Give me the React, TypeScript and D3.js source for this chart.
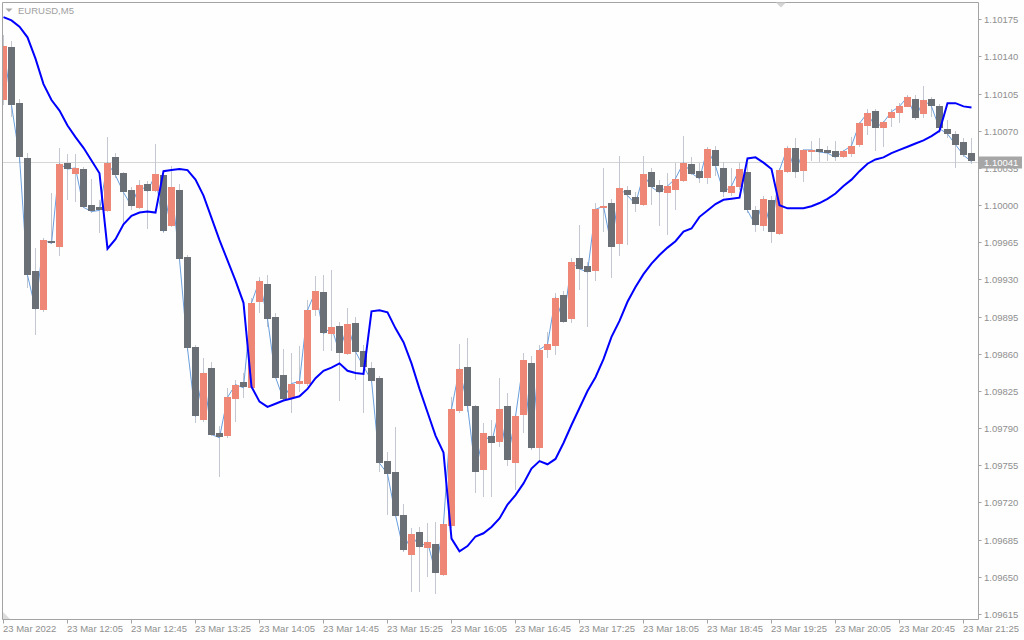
import React from "react";
import * as d3 from "d3";

const symbolLabel = "EURUSD,M5";

const timeLabels = [
  "23 Mar 2022", "23 Mar 12:05", "23 Mar 12:45", "23 Mar 13:25", "23 Mar 14:05",
  "23 Mar 14:45", "23 Mar 15:25", "23 Mar 16:05", "23 Mar 16:45", "23 Mar 17:25",
  "23 Mar 18:05", "23 Mar 18:45", "23 Mar 19:25", "23 Mar 20:05", "23 Mar 20:45",
  "23 Mar 21:25",
];
const timeLabelBars = [0, 8, 16, 24, 32, 40, 48, 56, 64, 72, 80, 88, 96, 104, 112, 120];

const priceTicks = [
  1.09615, 1.0965, 1.09685, 1.0972, 1.09755, 1.0979, 1.09825, 1.0986, 1.09895,
  1.0993, 1.09965, 1.1, 1.10035, 1.1007, 1.10105, 1.1014, 1.10175,
];

const opens = [
  1.10099, 1.10149, 1.10096, 1.10044, 1.09938, 1.09901, 1.09966, 1.09961, 1.1004, 1.10029,
  1.10034, 1.1, 1.09998, 1.09995, 1.10045, 1.1003, 1.10014, 1.09997, 1.1002, 1.10013,
  1.10028, 1.0998, 1.10014, 1.09951, 1.09866, 1.09798, 1.09847, 1.09785, 1.09782, 1.09818,
  1.09833, 1.09828, 1.09909, 1.09926, 1.09895, 1.0984, 1.09819, 1.09831, 1.09831, 1.09901,
  1.09918, 1.09878, 1.09886, 1.0986, 1.09889, 1.09863, 1.09847, 1.09837, 1.09759, 1.09749,
  1.09708, 1.0967, 1.09692, 1.09677, 1.09681, 1.09652, 1.09698, 1.09806, 1.09848, 1.09811,
  1.0975, 1.09783, 1.09777, 1.09811, 1.09757, 1.09802, 1.09851, 1.09772, 1.09863, 1.09868,
  1.09915, 1.09892, 1.0995, 1.09943, 1.09938, 1.09997, 1.10002, 1.09963, 1.10014, 1.10008,
  1.1, 1.10031, 1.10019, 1.10011, 1.10015, 1.10023, 1.10039, 1.10032, 1.10026, 1.10052,
  1.10035, 1.10011, 1.10017, 1.10031, 1.09995, 1.09981, 1.10005, 1.09973, 1.10031, 1.10054,
  1.10032, 1.1005, 1.10053, 1.10052, 1.10051, 1.10045, 1.10048, 1.10056, 1.10075, 1.10089,
  1.10072, 1.10082, 1.10086, 1.10093, 1.101, 1.10086, 1.101, 1.10093, 1.10072, 1.10067,
  1.10059, 1.10049,
];

const highs = [
  1.1016, 1.10155, 1.101, 1.10049, 1.0996, 1.09969, 1.10011, 1.10054, 1.10048, 1.10048,
  1.10036, 1.10025, 1.10005, 1.10064, 1.10049, 1.10031, 1.10017, 1.10024, 1.10023, 1.10058,
  1.10032, 1.10037, 1.1002, 1.09953, 1.09868, 1.09856, 1.09852, 1.09792, 1.09828, 1.09835,
  1.09842, 1.09913, 1.09932, 1.09934, 1.09898, 1.09865, 1.09861, 1.09867, 1.09911, 1.09933,
  1.09934, 1.09939, 1.0989, 1.09903, 1.09895, 1.09868, 1.09852, 1.09839, 1.09768, 1.09791,
  1.09719, 1.09696, 1.09697, 1.09701, 1.09702, 1.09703, 1.09819, 1.09869, 1.09875, 1.09812,
  1.09795, 1.09798, 1.09837, 1.09823, 1.09802, 1.09861, 1.09858, 1.09868, 1.09881, 1.09917,
  1.09919, 1.0995, 1.09981, 1.09946, 1.10002, 1.10035, 1.10006, 1.10046, 1.10018, 1.10012,
  1.10046, 1.10035, 1.10024, 1.1003, 1.1004, 1.10065, 1.10045, 1.1004, 1.10055, 1.10056,
  1.10041, 1.10035, 1.1004, 1.1004, 1.09999, 1.10009, 1.10009, 1.10035, 1.10056, 1.10063,
  1.10053, 1.1006, 1.10063, 1.10056, 1.1006, 1.10052, 1.10064, 1.10078, 1.10091, 1.10091,
  1.10079, 1.10091, 1.10096, 1.10104, 1.10104, 1.10112, 1.10102, 1.10095, 1.1008, 1.1007,
  1.10063, 1.10063,
];

const lows = [
  1.10094, 1.10083, 1.1004, 1.09922, 1.09878, 1.09899, 1.09963, 1.09952, 1.10005, 1.10003,
  1.09997, 1.09993, 1.09974, 1.09994, 1.10026, 1.09983, 1.09995, 1.09996, 1.09978, 1.10012,
  1.09974, 1.09979, 1.09948, 1.09863, 1.09795, 1.09796, 1.09783, 1.09744, 1.09781, 1.09796,
  1.09818, 1.09827, 1.09898, 1.09885, 1.09837, 1.09816, 1.09804, 1.09824, 1.0983, 1.09896,
  1.09863, 1.09863, 1.09816, 1.09859, 1.09835, 1.09804, 1.09833, 1.09749, 1.09708, 1.09707,
  1.09673, 1.09636, 1.09636, 1.0965, 1.09634, 1.09651, 1.09696, 1.09804, 1.09805, 1.09729,
  1.09725, 1.09725, 1.09772, 1.09754, 1.09732, 1.09785, 1.09769, 1.0976, 1.09856, 1.09859,
  1.09889, 1.09889, 1.0992, 1.09885, 1.09929, 1.09975, 1.09931, 1.09952, 1.09962, 1.09994,
  1.09999, 1.1, 1.0998, 1.09972, 1.09995, 1.10022, 1.10028, 1.10021, 1.1002, 1.10027,
  1.10008, 1.10009, 1.10014, 1.09993, 1.09975, 1.09976, 1.09964, 1.09972, 1.1003, 1.10026,
  1.10022, 1.10042, 1.10041, 1.10042, 1.10042, 1.10044, 1.10045, 1.10055, 1.10066, 1.10051,
  1.10055, 1.10074, 1.10077, 1.10092, 1.1008, 1.10082, 1.10083, 1.10068, 1.10063, 1.10035,
  1.10045, 1.10039,
];

const closes = [
  1.1015, 1.10094, 1.10045, 1.09934, 1.09902, 1.09967, 1.09964, 1.10039, 1.10034, 1.10035,
  1.09998, 1.09994, 1.09995, 1.1004, 1.10028, 1.10012, 1.09999, 1.10019, 1.10013, 1.10029,
  1.09975, 1.10017, 1.09949, 1.09865, 1.09801, 1.09842, 1.09784, 1.09781, 1.09819, 1.09831,
  1.09828, 1.09908, 1.09929, 1.09893, 1.09838, 1.09817, 1.09832, 1.09834, 1.09901, 1.09919,
  1.09879, 1.09885, 1.09861, 1.09888, 1.09862, 1.09848, 1.09835, 1.09757, 1.09747, 1.09708,
  1.09675, 1.0969, 1.09678, 1.09683, 1.09654, 1.097, 1.09808, 1.09846, 1.09811, 1.09749,
  1.09785, 1.09776, 1.09808, 1.0976, 1.09801, 1.09854, 1.09771, 1.09864, 1.09869, 1.09913,
  1.0989, 1.09946, 1.0994, 1.09937, 1.09996, 1.09999, 1.09961, 1.10016, 1.10009, 1.10001,
  1.10029, 1.10017, 1.10012, 1.10018, 1.10025, 1.1004, 1.1003, 1.10025, 1.10053, 1.10037,
  1.10012, 1.10018, 1.10034, 1.09995, 1.09981, 1.10006, 1.09975, 1.10033, 1.10054, 1.10031,
  1.10052, 1.10052, 1.1005, 1.10049, 1.10045, 1.10051, 1.10056, 1.10077, 1.10087, 1.10073,
  1.10078, 1.10088, 1.10093, 1.10102, 1.10082, 1.10099, 1.10093, 1.10072, 1.10067, 1.10057,
  1.10047, 1.10041,
];

const indicator = [
  1.10177, 1.10174, 1.10168, 1.10158, 1.10138, 1.10114, 1.10099, 1.10089, 1.10075, 1.10064,
  1.10054, 1.10042, 1.1003, 1.09959, 1.09968, 1.09982, 1.0999, 1.09993, 1.09994, 1.09993,
  1.10032, 1.10033, 1.10034, 1.10033, 1.10024, 1.10009, 1.09988, 1.09967, 1.09948, 1.09929,
  1.09908, 1.09829, 1.09815, 1.0981, 1.09813, 1.09816, 1.09818, 1.0982, 1.09827, 1.09837,
  1.09844, 1.09847, 1.09851, 1.09844, 1.09842, 1.09841, 1.099, 1.09901, 1.09899, 1.09884,
  1.09871, 1.09851, 1.09827, 1.09805, 1.09783, 1.09767, 1.09686, 1.09674, 1.09679, 1.09688,
  1.09691, 1.09697, 1.09705, 1.09718, 1.09727, 1.09738, 1.09752, 1.09759, 1.09756, 1.09761,
  1.09776, 1.09793, 1.09809, 1.09825, 1.09838, 1.09855, 1.09876, 1.09891, 1.09909, 1.09923,
  1.09935, 1.09945, 1.09953, 1.0996, 1.09966, 1.09975, 1.09978, 1.09989, 1.09995, 1.10001,
  1.10005, 1.10006, 1.10007, 1.10044, 1.10045, 1.1004, 1.10034, 1.1, 1.09997, 1.09997,
  1.09997, 1.09999, 1.10002, 1.10006, 1.10011, 1.10018, 1.10024, 1.10032, 1.10039, 1.10043,
  1.10045, 1.10049, 1.10052, 1.10055, 1.10058, 1.10061, 1.10065, 1.1007, 1.10096, 1.10096,
  1.10093, 1.10092,
];

const currentPrice = 1.10041;

const W = 1024;
const H = 640;
const left = 2.5;
const top = 2.5;
const right = 978.5;
const bottom = 619.5;

const UP = "#ef8777";
const DOWN = "#6b6f76";
const WICK = "#c3c7cf";
const CLOSELINE = "#6a9edc";
const TEXT = "#8f8f8f";
const FONT = "'Liberation Sans', Arial, sans-serif";

export default function App() {
  const n = closes.length;
  const x = d3.scaleLinear().domain([0, n - 1]).range([3.5, 3.5 + 8 * (n - 1)]);
  const y = d3.scaleLinear().domain([1.09615, 1.10175]).range([614, 19.3]);
  const idx = d3.range(n);

  const closeLine = d3
    .line<number>()
    .x((i) => x(i))
    .y((i) => y(closes[i]));
  const indLine = d3
    .line<number>()
    .x((i) => x(i))
    .y((i) => y(indicator[i]));

  const cpY = Math.round(y(currentPrice)) + 0.5;

  return (
    <svg
      width={W}
      height={H}
      style={{ position: "fixed", left: 0, top: 0, background: "#fefefe" }}
    >
      <rect x={0} y={0} width={W} height={H} fill="#fefefe" />
      <defs>
        <clipPath id="plot">
          <rect x={left} y={top} width={right - left} height={bottom - top} />
        </clipPath>
      </defs>

      {/* current price line */}
      <line x1={left} x2={right} y1={cpY} y2={cpY} stroke="#d6d6d6" strokeWidth={1} />

      <g clipPath="url(#plot)">
        {/* wicks */}
        {idx.map((i) => (
          <line
            key={"w" + i}
            x1={x(i)}
            x2={x(i)}
            y1={Math.round(y(highs[i]))}
            y2={Math.round(y(lows[i]))}
            stroke={WICK}
            strokeWidth={1}
          />
        ))}
        {/* close line */}
        <path d={closeLine(idx) || ""} fill="none" stroke={CLOSELINE} strokeWidth={1} />
        {/* bodies */}
        {idx.map((i) => {
          const o = y(opens[i]);
          const c = y(closes[i]);
          const up = closes[i] >= opens[i];
          const y0 = Math.round(Math.min(o, c));
          const h = Math.max(2, Math.round(Math.abs(o - c)));
          return (
            <rect
              key={"b" + i}
              x={x(i) - 3.5}
              y={y0}
              width={7}
              height={h}
              fill={up ? UP : DOWN}
            />
          );
        })}
        {/* indicator */}
        <path
          d={indLine(idx) || ""}
          fill="none"
          stroke="#0000ff"
          strokeWidth={2}
          strokeLinejoin="miter"
        />
      </g>

      {/* frame */}
      <line x1={left} x2={right} y1={top} y2={top} stroke="#a3a3a3" />
      <line x1={left} x2={left} y1={top} y2={bottom} stroke="#a3a3a3" />
      <line x1={right} x2={right} y1={top} y2={bottom} stroke="#a3a3a3" />
      <line x1={left} x2={right} y1={bottom} y2={bottom} stroke="#a3a3a3" />

      {/* marker triangles */}
      <polygon points="776,2.5 786,2.5 781,7.5" fill="#d4d4d4" />
      <polygon points="3,612 3,619 10,619" fill="#dcdcdc" />
      <polygon points="5.5,8.5 12.5,8.5 9,12" fill="#a9a9a9" />
      <text x={18} y={14} fontFamily={FONT} fontSize={9.5} fill="#a0a0a0">
        {symbolLabel}
      </text>

      {/* price axis */}
      {priceTicks.map((p) => {
        const ty = Math.round(y(p)) + 0.5;
        return (
          <g key={"p" + p}>
            <line x1={right} x2={right + 3} y1={ty} y2={ty} stroke="#a3a3a3" />
            <text
              x={984}
              y={ty + 3.3}
              fontFamily={FONT}
              fontSize={9.5}
              fill={TEXT}
            >
              {p.toFixed(5)}
            </text>
          </g>
        );
      })}

      {/* current price tag */}
      <rect x={979} y={cpY - 6} width={43} height={12} fill="#a6a6a6" />
      <text x={984} y={cpY + 3.3} fontFamily={FONT} fontSize={9.5} fill="#ffffff">
        {currentPrice.toFixed(5)}
      </text>

      {/* time axis */}
      {timeLabels.map((t, j) => {
        const tx = x(timeLabelBars[j]);
        return (
          <g key={"t" + j}>
            <line x1={tx} x2={tx} y1={bottom} y2={bottom + 4} stroke="#a3a3a3" />
            <text x={tx - 0.5} y={632} fontFamily={FONT} fontSize={9.5} fill={TEXT}>
              {t}
            </text>
          </g>
        );
      })}
    </svg>
  );
}
